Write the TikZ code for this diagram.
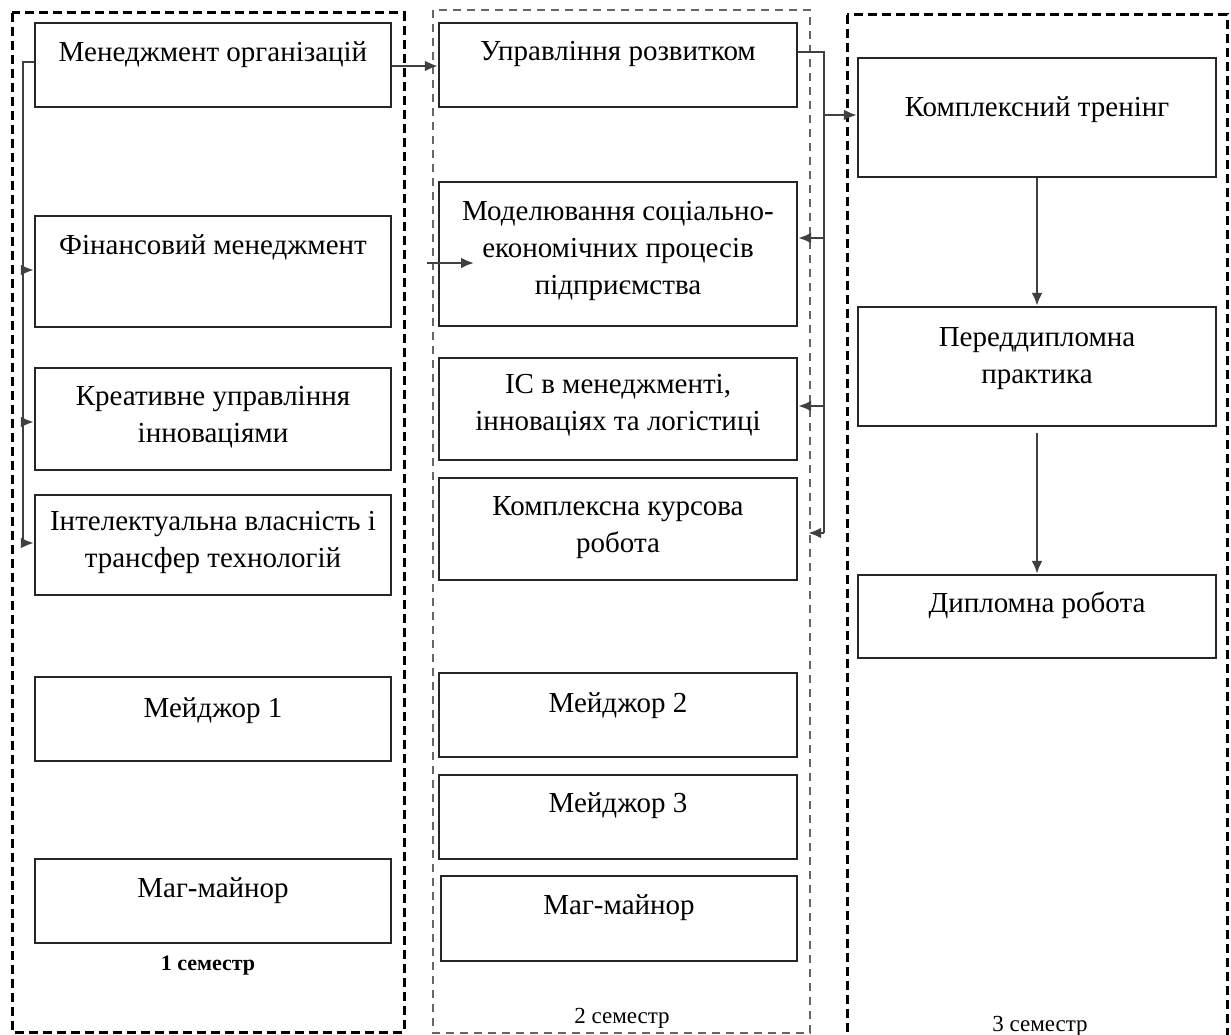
\documentclass[tikz,border=0pt]{standalone}
\usepackage{fontspec}
\setmainfont{Liberation Serif}
\usetikzlibrary{arrows.meta}
\begin{document}
\begin{tikzpicture}[x=1pt,y=-1pt,
  box/.style={draw=black!85, line width=2.4pt, minimum width=356pt, inner sep=0pt},
  txt/.style={font=\fontsize{29}{37}\selectfont, align=center, inner sep=0pt, anchor=north},
  sem/.style={font=\fontsize{23}{26}\selectfont, inner sep=0pt},
  frameA/.style={line width=3pt, dash pattern=on 9pt off 5pt},
  frameB/.style={line width=2.4pt, draw=black!60, dash pattern=on 8pt off 6pt},
  conn/.style={line width=2.4pt, draw=black!75},
  arr/.style={conn, -{Latex[length=13pt,width=11pt]}}
]
\useasboundingbox (0,0) rectangle (1231,1035);
\clip (0,0) rectangle (1231,1035);

% semester frames
\draw[frameA] (12,13) rectangle (404,1032);
\draw[frameB] (433,10) rectangle (810,1033);
\draw[frameA] (847,15) rectangle (1227,1050);

% column 1
\node[box, minimum height=84pt]  (m1)  at (213,65)    {};
\node[box, minimum height=111pt] (fin) at (213,271.5) {};
\node[box, minimum height=102pt] (kr)  at (213,419)   {};
\node[box, minimum height=100pt] (ip)  at (213,545)   {};
\node[box, minimum height=84pt]  (mj1) at (213,719)   {};
\node[box, minimum height=84pt]  (mm1) at (213,901)   {};

\node[txt] (m1t)  at (213,41)  {Менеджмент організацій};
\node[txt] (fint) at (213,234) {Фінансовий менеджмент};
\node[txt] (krt)  at (213,386) {Креативне управління\\інноваціями};
\node[txt] (ipt)  at (213,511) {Інтелектуальна власність і\\трансфер технологій};
\node[txt] (mj1t) at (213,697) {Мейджор 1};
\node[txt] (mm1t) at (213,877) {Маг-майнор};

% column 2
\node[box, minimum width=358pt, minimum height=84pt]  (ur)  at (618,65)    {};
\node[box, minimum width=358pt, minimum height=144pt] (mod) at (618,254)   {};
\node[box, minimum width=358pt, minimum height=102pt] (is)  at (618,409)   {};
\node[box, minimum width=358pt, minimum height=102pt] (kkr) at (618,529)   {};
\node[box, minimum width=358pt, minimum height=84pt]  (mj2) at (618,715)   {};
\node[box, minimum width=358pt, minimum height=84pt]  (mj3) at (618,817)   {};
\node[box, minimum height=85pt]                       (mm2) at (619,918.5) {};

\node[txt] (urt)  at (618,41)  {Управління розвитком};
\node[txt] (modt) at (618,201) {Моделювання соціально-\\економічних процесів\\підприємства};
\node[txt] (ist)  at (618,374) {ІС в менеджменті,\\інноваціях та логістиці};
\node[txt] (kkrt) at (618,496) {Комплексна курсова\\робота};
\node[txt] (mj2t) at (618,692) {Мейджор 2};
\node[txt] (mj3t) at (618,792) {Мейджор 3};
\node[txt] (mm2t) at (619,894) {Маг-майнор};

% column 3
\node[box, minimum width=358pt, minimum height=119pt] (kt) at (1037,117.5) {};
\node[box, minimum width=358pt, minimum height=119pt] (pp) at (1037,366.5) {};
\node[box, minimum width=358pt, minimum height=83pt]  (dr) at (1037,616.5) {};

\node[txt] (ktt) at (1037,96)  {Комплексний тренінг};
\node[txt] (ppt) at (1037,327) {Переддипломна\\практика};
\node[txt] (drt) at (1037,592) {Дипломна робота};

% semester labels
\node[sem, font=\fontsize{22}{25}\selectfont\bfseries] (s1) at (208,966) {1 семестр};
\node[sem] (s2) at (622,1018) {2 семестр};
\node[sem] (s3) at (1040,1026) {3 семестр};

% connectors, column 1
\coordinate (lb) at (23,0);
\draw[conn] (m1.west |- 0,62) -- (lb |- 0,62) -- (lb |- 0,543);
\draw[arr] (lb |- 0,270) -- (fin.west |- 0,270);
\draw[arr] (lb |- 0,422) -- (kr.west |- 0,422);
\draw[arr] (lb |- 0,543) -- (ip.west |- 0,543);
\draw[arr] (m1.east |- 0,66) -- (ur.west |- 0,66);
\coordinate (fa) at (427,263);
\coordinate (fb) at (474,263);
\draw[arr] (fa) -- (fb);

% connectors, column 2
\coordinate (rb) at (824,0);
\draw[conn] (ur.east |- 0,52) -- (rb |- 0,52) -- (rb |- 0,533);
\draw[arr] (rb |- 0,238) -- (mod.east |- 0,238);
\draw[arr] (rb |- 0,406) -- (is.east |- 0,406);
\draw[arr, shorten >=10pt] (rb |- 0,533) -- (kkr.east |- 0,533);
\draw[arr] (rb |- 0,115) -- (kt.west |- 0,115);

% connectors, column 3
\draw[arr] (kt.south) -- (pp.north);
\draw[arr, shorten <=6pt] (pp.south) -- (dr.north);
\end{tikzpicture}
\end{document}
